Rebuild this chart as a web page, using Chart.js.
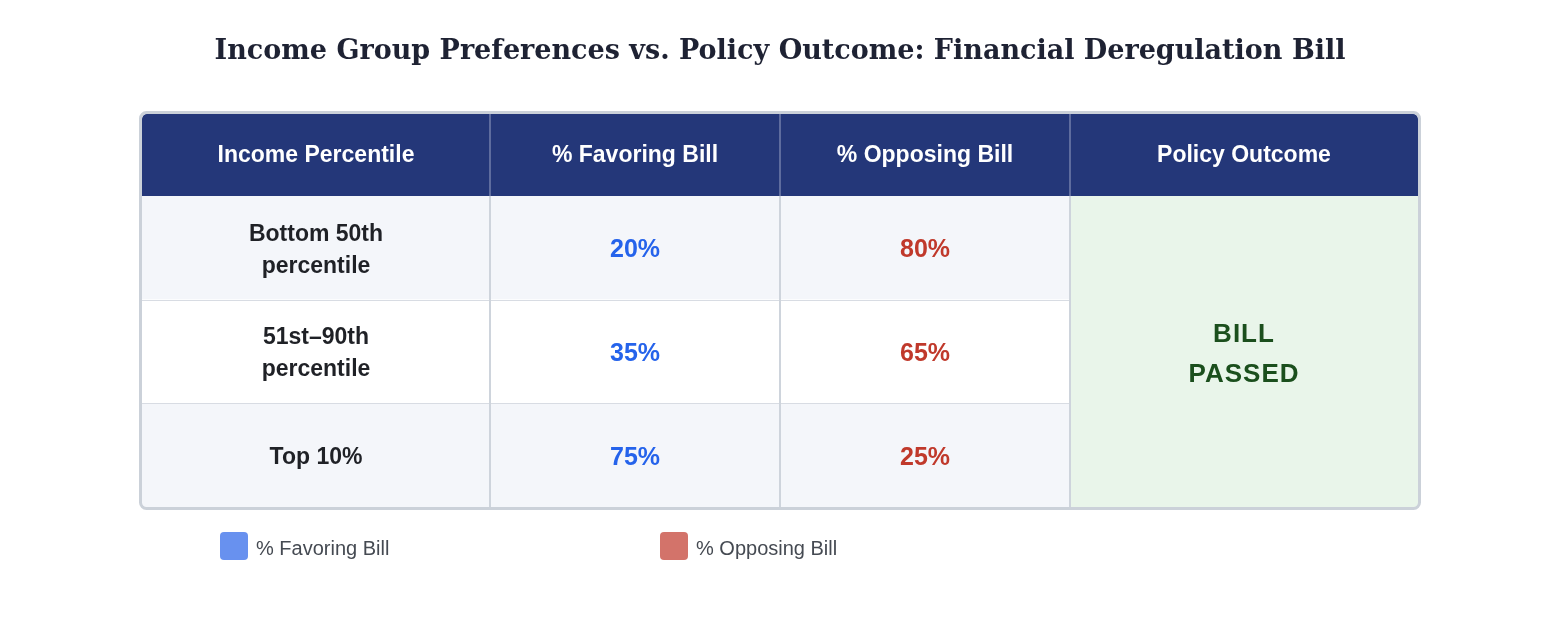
<!DOCTYPE html>
<html>
<head>
<meta charset="utf-8">
<script src="https://cdn.jsdelivr.net/npm/chart.js@4.4.1/dist/chart.umd.min.js"></script>
<style>
  html,body{margin:0;padding:0;background:#ffffff;}
  #wrap{width:1560px;height:620px;}
</style>
</head>
<body>
<div id="wrap"><canvas id="c" width="1560" height="620"></canvas></div>
<script>
// ---- data ----
const titleText = "Income Group Preferences vs. Policy Outcome: Financial Deregulation Bill";
const headerLabels = ["Income Percentile", "% Favoring Bill", "% Opposing Bill", "Policy Outcome"];
const incomeGroups = [["Bottom 50th", "percentile"], ["51st\u201390th", "percentile"], ["Top 10%"]];
const favoringPct = [20, 35, 75];
const opposingPct = [80, 65, 25];
const outcomeLines = ["BILL", "PASSED"];
const legendLabels = ["% Favoring Bill", "% Opposing Bill"];

// ---- layout / style ----
const colWidths = [1.2, 1, 1, 1.2];
const colEdges = colWidths.reduce((a, w) => { a.push(a[a.length - 1] + w); return a; }, [0]);
const FONT = "'Liberation Sans', Arial, sans-serif";
const rowFills = ["#f4f6fa", "#ffffff", "#f4f6fa"];
const outcomeFill = "#e9f5ea";
const headerFill = "#243779";
const favColor = "#2563eb";
const oppColor = "#c0392b";
const legendColors = ["#6891ef", "#d3736a"];
const TEXT_DY = 2.5;

const span = (i) => incomeGroups.map(() => [colEdges[i], colEdges[i + 1]]);

const datasets = [
  { label: headerLabels[0], data: span(0), backgroundColor: rowFills, texts: incomeGroups.map(g => g), color: "#1f2126", size: 23 },
  { label: headerLabels[1], data: span(1), backgroundColor: rowFills, texts: favoringPct.map(v => [v + "%"]), color: favColor, size: 25 },
  { label: headerLabels[2], data: span(2), backgroundColor: rowFills, texts: opposingPct.map(v => [v + "%"]), color: oppColor, size: 25 },
  { label: headerLabels[3], data: span(3), backgroundColor: incomeGroups.map(() => outcomeFill), texts: null }
];

function roundTopRect(ctx, x, y, w, h, r) {
  ctx.beginPath();
  ctx.moveTo(x, y + h);
  ctx.lineTo(x, y + r);
  ctx.arcTo(x, y, x + r, y, r);
  ctx.lineTo(x + w - r, y);
  ctx.arcTo(x + w, y, x + w, y + r, r);
  ctx.lineTo(x + w, y + h);
  ctx.closePath();
}

const tablePlugin = {
  id: "tablePlugin",
  beforeDraw(chart) {
    const ctx = chart.ctx;
    const xs = chart.scales.x;
    ctx.save();
    ctx.fillStyle = headerFill;
    roundTopRect(ctx, chart.chartArea.left, xs.top, chart.chartArea.right - chart.chartArea.left, xs.bottom - xs.top, 5);
    ctx.fill();
    ctx.restore();
  },
  afterDatasetsDraw(chart) {
    const ctx = chart.ctx;
    const xs = chart.scales.x;
    const area = chart.chartArea;
    ctx.save();
    // row dividers (not crossing outcome column)
    const n = incomeGroups.length;
    const rowH = (area.bottom - area.top) / n;
    ctx.strokeStyle = "#d8dce3";
    ctx.lineWidth = 1;
    for (let r = 1; r < n; r++) {
      const y = Math.round(area.top + r * rowH) + 0.5;
      ctx.beginPath();
      ctx.moveTo(area.left, y);
      ctx.lineTo(xs.getPixelForValue(colEdges[3]), y);
      ctx.stroke();
    }
    // vertical dividers
    for (let i = 1; i < colEdges.length - 1; i++) {
      const x = Math.round(xs.getPixelForValue(colEdges[i]));
      ctx.lineWidth = 2;
      ctx.strokeStyle = "#5e6c9e";
      ctx.beginPath(); ctx.moveTo(x, xs.top); ctx.lineTo(x, xs.bottom); ctx.stroke();
      ctx.strokeStyle = "#ced4dc";
      ctx.beginPath(); ctx.moveTo(x, xs.bottom); ctx.lineTo(x, area.bottom); ctx.stroke();
    }
    // cell texts
    ctx.textAlign = "center";
    ctx.textBaseline = "middle";
    chart.data.datasets.forEach((ds, di) => {
      if (!ds.texts) return;
      const meta = chart.getDatasetMeta(di);
      meta.data.forEach((bar, ri) => {
        const lines = ds.texts[ri];
        const cx = (bar.x + bar.base) / 2;
        const cy = bar.y + TEXT_DY;
        ctx.fillStyle = ds.color;
        ctx.font = "bold " + ds.size + "px " + FONT;
        const lh = 32;
        lines.forEach((t, li) => {
          ctx.fillText(t, cx, cy + (li - (lines.length - 1) / 2) * lh);
        });
      });
    });
    // outcome merged cell text
    const om = chart.getDatasetMeta(3).data;
    const ocx = (om[0].x + om[0].base) / 2;
    const ocy = (area.top + area.bottom) / 2 + 3;
    ctx.fillStyle = "#1b4f1d";
    ctx.font = "bold 26px " + FONT;
    try { ctx.letterSpacing = "1px"; } catch (e) {}
    outcomeLines.forEach((t, li) => {
      ctx.fillText(t, ocx, ocy + (li - (outcomeLines.length - 1) / 2) * 40);
    });
    try { ctx.letterSpacing = "0px"; } catch (e) {}
    // outer border
    ctx.strokeStyle = "#cbd1d9";
    ctx.lineWidth = 3;
    ctx.beginPath();
    ctx.roundRect(area.left - 1.5, xs.top - 1.5, area.right - area.left + 3, area.bottom - xs.top + 3, 6);
    ctx.stroke();
    ctx.restore();
  },
  afterDraw(chart) {
    const ctx = chart.ctx;
    ctx.save();
    const starts = [220, 660];
    legendLabels.forEach((t, i) => {
      const x = starts[i], y = 532;
      ctx.fillStyle = legendColors[i];
      ctx.beginPath();
      ctx.roundRect(x, y, 28, 28, 4);
      ctx.fill();
      ctx.fillStyle = "#454a52";
      ctx.font = "20px " + FONT;
      ctx.textAlign = "left";
      ctx.textBaseline = "middle";
      ctx.fillText(t, x + 36, y + 17);
    });
    ctx.restore();
  }
};

new Chart(document.getElementById("c"), {
  type: "bar",
  data: { labels: incomeGroups.map(g => g.join(" ")), datasets },
  options: {
    responsive: false,
    animation: false,
    indexAxis: "y",
    layout: { padding: { top: 0, left: 142, right: 142, bottom: 113 } },
    datasets: { bar: { grouped: false, barPercentage: 1, categoryPercentage: 1, borderWidth: 0, borderSkipped: false } },
    plugins: {
      legend: { display: false },
      tooltip: { enabled: false },
      title: {
        display: true,
        text: titleText,
        color: "#1e2233",
        font: { family: "'DejaVu Serif', serif", size: 27, weight: "bold" },
        padding: { top: 36, bottom: 45.6 }
      }
    },
    scales: {
      x: {
        type: "linear",
        position: "top",
        min: colEdges[0],
        max: colEdges[colEdges.length - 1],
        grid: { display: false },
        border: { display: false },
        afterBuildTicks(scale) {
          scale.ticks = colWidths.map((w, i) => ({ value: colEdges[i] + w / 2 }));
        },
        afterFit(scale) { scale.height = 82; },
        ticks: {
          autoSkip: false,
          maxRotation: 0,
          padding: 19,
          color: "#ffffff",
          font: { family: FONT, size: 23, weight: "bold" },
          callback(value, index) { return headerLabels[index]; }
        }
      },
      y: { type: "category", display: false }
    }
  },
  plugins: [tablePlugin]
});
</script>
</body>
</html>
